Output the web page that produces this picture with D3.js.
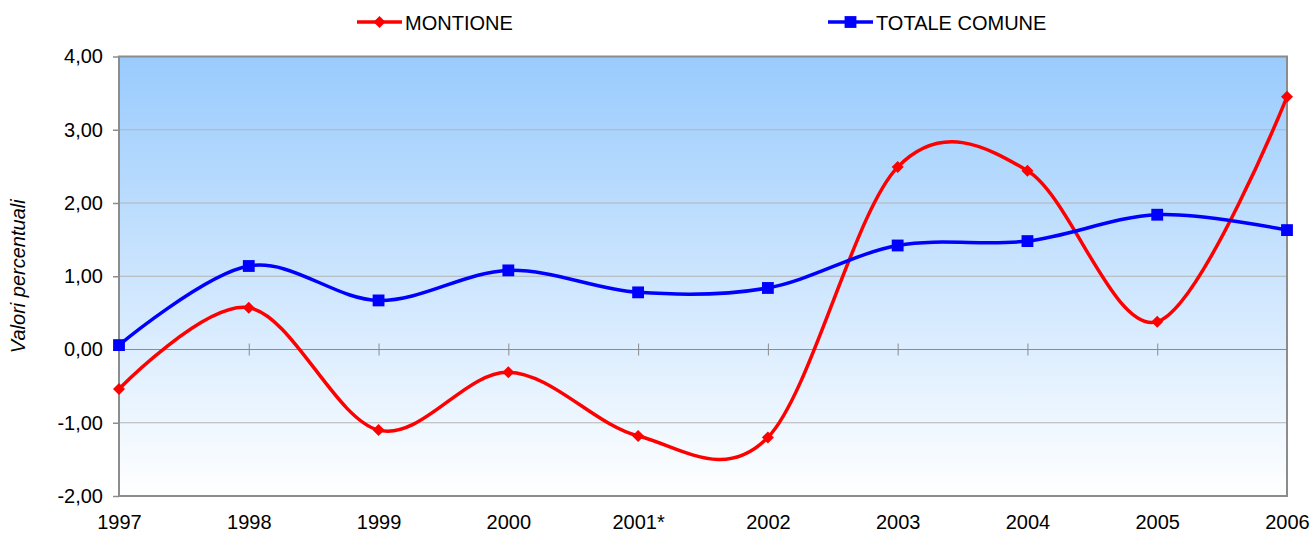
<!DOCTYPE html>
<html>
<head>
<meta charset="utf-8">
<script src="https://cdn.jsdelivr.net/npm/d3@7"></script>
<style>
  body { margin: 0; background: #fff; }
  svg { display: block; font-family: "Liberation Sans", Arial, sans-serif; }
</style>
</head>
<body>
<svg width="1310" height="533"></svg>
<script>
// data
var years = ['1997', '1998', '1999', '2000', '2001*', '2002', '2003', '2004', '2005', '2006'];
var montione = [-0.54, 0.57, -1.10, -0.31, -1.18, -1.20, 2.49, 2.44, 0.38, 3.45];
var totaleComune = [0.06, 1.14, 0.67, 1.08, 0.78, 0.84, 1.42, 1.48, 1.84, 1.63];
var yTicks = [-2, -1, 0, 1, 2, 3, 4];

var svg = d3.select('svg');
var margin = { top: 56.5, right: 23, bottom: 37, left: 119 };
var width = +svg.attr('width') - margin.left - margin.right;
var height = +svg.attr('height') - margin.top - margin.bottom;

var locale = d3.formatLocale({ decimal: ',', thousands: '.', grouping: [3], currency: ['', ''], minus: '-' });
var fmt = locale.format('.2f');

var x = d3.scalePoint().domain(years).range([0, width]);
var y = d3.scaleLinear().domain([-2, 4]).range([height, 0]);

var defs = svg.append('defs');
var grad = defs.append('linearGradient')
  .attr('id', 'bg').attr('x1', 0).attr('y1', 0).attr('x2', 0).attr('y2', 1);
grad.append('stop').attr('offset', '0%').attr('stop-color', '#99cbfd');
grad.append('stop').attr('offset', '100%').attr('stop-color', '#ffffff');

var g = svg.append('g')
  .attr('transform', 'translate(' + margin.left + ',' + margin.top + ')');

g.append('rect')
  .attr('width', width).attr('height', height)
  .attr('fill', 'url(#bg)');

// gridlines
g.append('g')
  .selectAll('line')
  .data(yTicks.filter(function(d) { return d !== 0 && d !== -2 && d !== 4; }))
  .enter().append('line')
  .attr('x1', 0).attr('x2', width)
  .attr('y1', function(d) { return y(d); })
  .attr('y2', function(d) { return y(d); })
  .attr('stroke', '#b4b4b4').attr('stroke-width', 1);

// zero axis with year ticks
var zeroAxis = g.append('g')
  .attr('transform', 'translate(0,' + (y(0) - 6) + ')')
  .call(d3.axisBottom(x).tickSize(12).tickFormat(''));
zeroAxis.select('.domain').remove();
zeroAxis.selectAll('line').attr('stroke', '#8c8c8c').attr('stroke-width', 1);
g.append('line')
  .attr('x1', 0).attr('x2', width)
  .attr('y1', y(0)).attr('y2', y(0))
  .attr('stroke', '#8c8c8c').attr('stroke-width', 1.2);

// plot border
g.append('rect')
  .attr('width', width).attr('height', height)
  .attr('fill', 'none')
  .attr('stroke', '#8c8c8c').attr('stroke-width', 2);

// y axis
var yAxis = g.append('g')
  .call(d3.axisLeft(y).tickValues(yTicks).tickSize(6).tickPadding(10).tickFormat(fmt));
yAxis.select('.domain').remove();
yAxis.selectAll('line').attr('stroke', '#8c8c8c').attr('stroke-width', 1.5);
yAxis.selectAll('text')
  .attr('font-family', '"Liberation Sans", Arial, sans-serif')
  .attr('font-size', 20).attr('fill', '#000');

// x labels
var xAxis = g.append('g')
  .attr('transform', 'translate(0,' + height + ')')
  .call(d3.axisBottom(x).tickSize(0).tickPadding(19));
xAxis.select('.domain').remove();
xAxis.selectAll('text')
  .attr('font-family', '"Liberation Sans", Arial, sans-serif')
  .attr('font-size', 20).attr('fill', '#000');

// y title
svg.append('text')
  .attr('transform', 'translate(25,' + (margin.top + height / 2) + ') rotate(-90)')
  .attr('text-anchor', 'middle')
  .attr('font-size', 20)
  .attr('font-style', 'italic')
  .text('Valori percentuali');

var line = d3.line()
  .x(function(d, i) { return x(years[i]); })
  .y(function(d) { return y(d); })
  .curve(d3.curveCardinal.tension(0));

var series = [
  { name: 'MONTIONE', values: montione, color: '#ff0000', size: 72, rot: 45 },
  { name: 'TOTALE COMUNE', values: totaleComune, color: '#0000ff', size: 140, rot: 0 }
];

series.forEach(function(s) {
  g.append('path')
    .datum(s.values)
    .attr('d', line)
    .attr('fill', 'none')
    .attr('stroke', s.color)
    .attr('stroke-width', 3.5);

  g.selectAll(null)
    .data(s.values)
    .enter().append('path')
    .attr('transform', function(d, i) {
      return 'translate(' + x(years[i]) + ',' + y(d) + ') rotate(' + s.rot + ')';
    })
    .attr('d', d3.symbol().type(d3.symbolSquare).size(s.size))
    .attr('fill', s.color);
});

// legend
var legendX = [357, 828];
series.forEach(function(s, i) {
  var lg = svg.append('g').attr('transform', 'translate(' + legendX[i] + ',22)');
  lg.append('line')
    .attr('x1', 0).attr('x2', 45)
    .attr('stroke', s.color).attr('stroke-width', 3.5);
  lg.append('path')
    .attr('transform', 'translate(22.5,0) rotate(' + s.rot + ')')
    .attr('d', d3.symbol().type(d3.symbolSquare).size(s.size))
    .attr('fill', s.color);
  lg.append('text')
    .attr('x', 48).attr('y', 7.5)
    .attr('font-size', 20)
    .text(s.name);
});
</script>
</body>
</html>
